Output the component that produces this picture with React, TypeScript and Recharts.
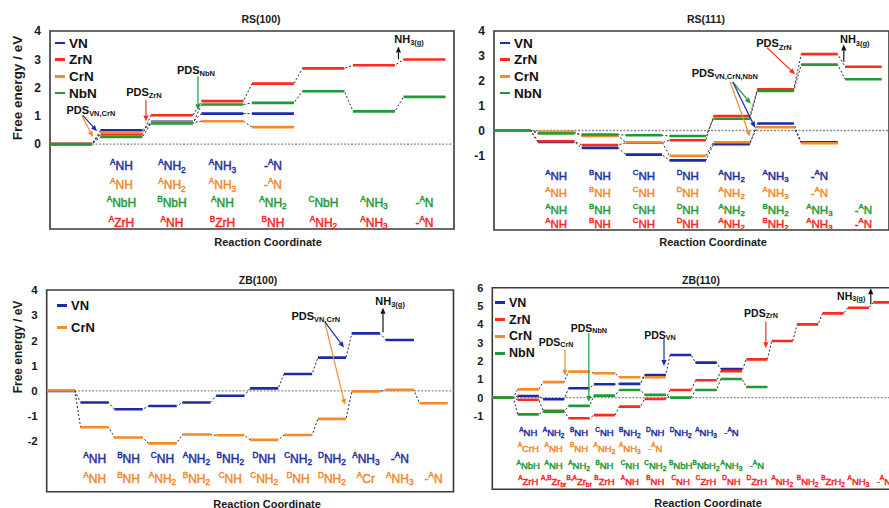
import React from 'react';
import { ComposedChart, Line, Scatter, XAxis, YAxis, ReferenceLine, ReferenceArea } from 'recharts';

const FONT = '"Liberation Sans", Arial, Helvetica, sans-serif';
const COL = { VN: '#1b2ca6', ZrN: '#ff2a1e', CrN: '#f68b2c', NbN: '#21993a', ARROW: '#111111' };
const TXT = { VN: '#1f2ea0', ZrN: '#ff2424', CrN: '#f0892e', NbN: '#1f9a35' };

// ---------- RS(100) ----------
const RS100_VN = [0, 0.49, 0.79, 1.08, 1.08];
const RS100_ZrN = [0, 0.34, 1.02, 1.52, 2.14, 2.68, 2.79, 2.99];
const RS100_CrN = [0, 0.41, 0.76, 0.81, 0.6];
const RS100_NbN = [0, 0.25, 0.73, 1.4, 1.46, 1.87, 1.16, 1.67];
const RS100_VN_LBL = ['^ANH', '^ANH_2', '^ANH_3', '-^AN'];
const RS100_CrN_LBL = ['^ANH', '^ANH_2', '^ANH_3', '-^AN'];
const RS100_NbN_LBL = ['^ANbH', '^BNbH', '^ANH', '^ANH_2', '^CNbH', '^ANH_3', '-^AN'];
const RS100_ZrN_LBL = ['^AZrH', '^ANH', '^BZrH', '^BNH', '^ANH_2', '^ANH_3', '-^AN'];
const RS100_TICKS = [0, 1, 2, 3, 4];

// ---------- RS(111) ----------
const RS111_VN = [0, -0.46, -0.7, -0.97, -1.2, -0.55, 0.28, -0.47];
const RS111_ZrN = [0, -0.43, -0.58, -0.49, -0.39, 0.58, 1.66, 3.07, 2.56];
const RS111_CrN = [0, -0.05, -0.22, -0.47, -1.02, -0.47, 0.13, -0.51];
const RS111_NbN = [0, -0.12, -0.16, -0.19, -0.22, 0.47, 1.59, 2.65, 2.06];
const RS111_VN_LBL = ['^ANH', '^BNH', '^CNH', '^DNH', '^ANH_2', '^ANH_3', '-^AN'];
const RS111_CrN_LBL = ['^ANH', '^BNH', '^CNH', '^DNH', '^ANH_2', '^ANH_3', '-^AN'];
const RS111_NbN_LBL = ['^ANH', '^BNH', '^CNH', '^DNH', '^ANH_2', '^BNH_2', '^ANH_3', '-^AN'];
const RS111_ZrN_LBL = ['^ANH', '^BNH', '^CNH', '^DNH', '^ANH_2', '^BNH_2', '^ANH_3', '-^AN'];
const RS111_TICKS = [-1, 0, 1, 2, 3, 4];

// ---------- ZB(100) ----------
const ZB100_VN = [0, -0.46, -0.73, -0.6, -0.46, -0.19, 0.1, 0.67, 1.32, 2.28, 2.02];
const ZB100_CrN = [0.02, -1.44, -1.85, -2.08, -1.73, -1.76, -1.94, -1.75, -1.11, -0.02, 0.04, -0.49];
const ZB100_VN_LBL = ['^ANH', '^BNH', '^CNH', '^ANH_2', '^BNH_2', '^DNH', '^CNH_2', '^DNH_2', '^ANH_3', '-^AN'];
const ZB100_CrN_LBL = ['^ANH', '^BNH', '^ANH_2', '^BNH_2', '^CNH', '^CNH_2', '^DNH', '^DNH_2', '^ACr', '^ANH_3', '-^AN'];
const ZB100_TICKS = [-2, -1, 0, 1, 2, 3, 4];

// ---------- ZB(110) ----------
const ZB110_VN = [0, 0.09, -0.09, 0.51, 0.73, 0.75, 1.24, 2.33, 1.91, 1.56];
const ZB110_ZrN = [0, -0.11, -0.71, -1.12, -0.95, -0.49, -0.07, 0.42, 0.95, 1.45, 2.09, 3.09, 4.0, 4.6, 4.91, 5.2];
const ZB110_CrN = [0, 0.45, 0.85, 1.42, 1.33, 1.11, 1.11];
const ZB110_NbN = [0, -0.91, -0.76, -0.45, 0.11, 0.42, 0.15, 0.0, 0.42, 1.02, 0.58];
const ZB110_VN_LBL = ['^ANH', '^ANH_2', '^BNH', '^CNH', '^BNH_2', '^DNH', '^DNH_2', '^ANH_3', '-^AN'];
const ZB110_CrN_LBL = ['^ACrH', '^ANH', '^BNH', '^ANH_2', '^ANH_3', '-^AN'];
const ZB110_NbN_LBL = ['^ANbH', '^ANH', '^ANH_2', '^BNH', '^CNH', '^CNH_2', '^BNbH', '^BNbH_2', '^ANH_3', '-^AN'];
const ZB110_ZrN_LBL = ['^AZrH', '^{A,B}Zr_{br}', '^{B,A}Zr_{br}', '^BZrH', '^ANH', '^BNH', '^CNH', '^CZrH', '^DNH', '^DZrH', '^ANH_2', '^BNH_2', '^BZrH_2', '^ANH_3', '-^AN'];
const ZB110_TICKS = [-1, 0, 1, 2, 3, 4, 5, 6];

const SEG = 0.83;

type Seg = { t: string; m: number };
function parseMarkup(s: string): Seg[] {
  const out: Seg[] = [];
  let buf = '';
  let i = 0;
  const flush = () => {
    if (buf) out.push({ t: buf, m: 0 });
    buf = '';
  };
  while (i < s.length) {
    const ch = s[i];
    if (ch === '^' || ch === '_') {
      flush();
      let t = '';
      if (s[i + 1] === '{') {
        const j = s.indexOf('}', i + 2);
        t = s.slice(i + 2, j);
        i = j + 1;
      } else {
        t = s[i + 1];
        i += 2;
      }
      out.push({ t, m: ch === '^' ? 1 : 2 });
    } else {
      buf += ch;
      i++;
    }
  }
  flush();
  return out;
}

function RichText(props: any) {
  const { x, y, text, color, fs, bold, thick } = props;
  const segs = parseMarkup(text);
  let cur = 0;
  return (
    <text x={x} y={y} textAnchor="middle" dominantBaseline="central" fill={color} fontSize={fs}
      fontWeight={bold ? 'bold' : 'normal'} fontFamily={FONT}
      stroke={thick ? color : 'none'} strokeWidth={thick ? 0.45 : 0}>
      {segs.map((sg, i) => {
        const target = sg.m === 1 ? -0.36 * fs : sg.m === 2 ? 0.28 * fs : 0;
        const dy = target - cur;
        cur = target;
        return (
          <tspan key={i} dy={dy} fontSize={sg.m ? fs * 0.68 : fs}>{sg.t}</tspan>
        );
      })}
    </text>
  );
}

const renderPoint = (p: any) => {
  const d = p.payload || {};
  return <RichText x={p.cx} y={p.cy} text={d.text} color={d.color} fs={d.fs} bold={d.bold} thick={d.thick} />;
};

const arrowShape = (color: string) => (props: any) => {
  const { x1, y1, x2, y2 } = props;
  const dx = x2 - x1;
  const dy = y2 - y1;
  const L = Math.hypot(dx, dy) || 1;
  const ux = dx / L;
  const uy = dy / L;
  const h = 6;
  const w = 2.6;
  const bx = x2 - ux * h;
  const by = y2 - uy * h;
  return (
    <g>
      <line x1={x1} y1={y1} x2={bx} y2={by} stroke={color} strokeWidth={1.2} />
      <polygon points={`${x2},${y2} ${bx - uy * w},${by + ux * w} ${bx + uy * w},${by - ux * w}`} fill={color} />
    </g>
  );
};

function solidData(values: number[]) {
  const out: any[] = [];
  values.forEach((v, k) => {
    out.push({ x: k, y: v });
    out.push({ x: k + SEG, y: v });
    out.push({ x: k + (1 + SEG) / 2, y: null });
  });
  return out;
}
function dashData(values: number[]) {
  const out: any[] = [];
  values.forEach((v, k) => {
    out.push({ x: k, y: v });
    out.push({ x: k + SEG, y: v });
  });
  return out;
}

type SeriesCfg = { name: string; color: string; values: number[] };
type RowCfg = { color: string; labels: string[]; y: number };
type TextCfg = { t: string; x: number; y: number };
type ArrowCfg = { x1: number; y1: number; x2: number; y2: number; c: string };

type PanelCfg = {
  left: number; top: number; width: number; height: number;
  margin: any; yw: number; xMax: number; yDomain: [number, number]; ticks: number[];
  series: SeriesCfg[]; rows: RowCfg[]; labelFs: number; tickFs: number;
  texts: TextCfg[]; annFs: number; arrows: ArrowCfg[];
  legend: { x: number; y: number; gap: number; fs: number; items: SeriesCfg[] };
};

function Panel({ cfg }: { cfg: PanelCfg }) {
  const pts: any[] = [];
  cfg.rows.forEach((r) => {
    r.labels.forEach((lb, i) => {
      pts.push({ x: i + 1 + SEG / 2, y: r.y, text: lb, color: r.color, fs: cfg.labelFs, bold: false, thick: true });
    });
  });
  cfg.texts.forEach((t) => {
    pts.push({ x: t.x, y: t.y, text: t.t, color: '#111', fs: cfg.annFs, bold: true, thick: false });
  });
  return (
    <div style={{ position: 'absolute', left: cfg.left, top: cfg.top, width: cfg.width, height: cfg.height }}>
      <ComposedChart width={cfg.width} height={cfg.height} margin={cfg.margin}>
        <XAxis type="number" dataKey="x" domain={[0, cfg.xMax]} hide allowDataOverflow />
        <YAxis type="number" dataKey="y" domain={cfg.yDomain} ticks={cfg.ticks} width={cfg.yw} interval={0}
          allowDataOverflow axisLine={false} tickLine={false} tickSize={0} tickMargin={9}
          tick={{ fontSize: cfg.tickFs, fontWeight: 'bold', fill: '#1a1a1a', fontFamily: FONT }} />
        <ReferenceLine y={0} stroke="#8c8c8c" strokeDasharray="2 1.5" strokeWidth={1.3} />
        {cfg.series.map((s) => (
          <Line key={s.name + '-conn'} data={dashData(s.values)} dataKey="y" stroke="#2a2a2a" strokeWidth={1}
            strokeDasharray="2 2" dot={false} activeDot={false} isAnimationActive={false} legendType="none" />
        ))}
        {cfg.series.map((s) => (
          <Line key={s.name} name={s.name} data={solidData(s.values)} dataKey="y" stroke={s.color} strokeWidth={2.6}
            dot={false} activeDot={false} connectNulls={false} isAnimationActive={false} />
        ))}
        <ReferenceArea x1={0} x2={cfg.xMax} y1={cfg.yDomain[0]} y2={cfg.yDomain[1]} fill="none" fillOpacity={0}
          stroke="#3a3a3a" strokeWidth={1.6} ifOverflow="visible" />
        {cfg.arrows.map((a, i) => (
          <ReferenceLine key={'ar' + i} segment={[{ x: a.x1, y: a.y1 }, { x: a.x2, y: a.y2 }]}
            stroke={a.c} ifOverflow="visible" shape={arrowShape(a.c)} />
        ))}
        <Scatter data={pts} dataKey="y" shape={renderPoint} isAnimationActive={false} legendType="none" />
      </ComposedChart>
      <div style={{ position: 'absolute', left: cfg.legend.x, top: cfg.legend.y, fontFamily: FONT }}>
        {cfg.legend.items.map((it, i) => (
          <div key={it.name} style={{ position: 'absolute', left: 0, top: i * cfg.legend.gap, height: 16,
            display: 'flex', alignItems: 'center', whiteSpace: 'nowrap', transform: 'translateY(-50%)' }}>
            <span style={{ display: 'inline-block', width: 10, height: 2.6, background: it.color, marginRight: 4 }} />
            <span style={{ fontSize: cfg.legend.fs, fontWeight: 'bold', color: '#111' }}>{it.name}</span>
          </div>
        ))}
      </div>
    </div>
  );
}

const S = (name: string, values: number[]): SeriesCfg => ({ name, color: (COL as any)[name], values });

const P1: PanelCfg = {
  left: 0, top: 0, width: 460, height: 235, margin: { top: 31, right: 6, bottom: 6, left: 0 }, yw: 50,
  xMax: 8, yDomain: [-3, 4], ticks: RS100_TICKS,
  series: [S('VN', RS100_VN), S('ZrN', RS100_ZrN), S('CrN', RS100_CrN), S('NbN', RS100_NbN)],
  rows: [
    { color: TXT.VN, labels: RS100_VN_LBL, y: -0.78 },
    { color: TXT.CrN, labels: RS100_CrN_LBL, y: -1.45 },
    { color: TXT.NbN, labels: RS100_NbN_LBL, y: -2.08 },
    { color: TXT.ZrN, labels: RS100_ZrN_LBL, y: -2.79 },
  ],
  labelFs: 12, tickFs: 12, annFs: 11,
  texts: [
    { t: 'PDS_{VN,CrN}', x: 0.81, y: 1.2 },
    { t: 'PDS_{ZrN}', x: 1.86, y: 1.84 },
    { t: 'PDS_{NbN}', x: 2.89, y: 2.61 },
    { t: 'NH_{3(g)}', x: 7.11, y: 3.71 },
  ],
  arrows: [
    { x1: 0.65, y1: 1.02, x2: 0.93, y2: 0.46, c: COL.VN },
    { x1: 0.63, y1: 1.02, x2: 0.85, y2: 0.25, c: COL.CrN },
    { x1: 1.9, y1: 1.55, x2: 1.9, y2: 0.8, c: COL.ZrN },
    { x1: 2.93, y1: 2.4, x2: 2.93, y2: 1.2, c: COL.NbN },
    { x1: 6.9, y1: 3.0, x2: 6.9, y2: 3.45, c: COL.ARROW },
  ],
  legend: { x: 55, y: 43, gap: 16.7, fs: 13.5, items: [] },
};
P1.legend.items = P1.series;

const P2: PanelCfg = {
  left: 445, top: 0, width: 445, height: 236, margin: { top: 31, right: 1, bottom: 6, left: 0 }, yw: 49,
  xMax: 9, yDomain: [-4, 4], ticks: RS111_TICKS,
  series: [S('VN', RS111_VN), S('ZrN', RS111_ZrN), S('CrN', RS111_CrN), S('NbN', RS111_NbN)],
  rows: [
    { color: TXT.VN, labels: RS111_VN_LBL, y: -1.82 },
    { color: TXT.CrN, labels: RS111_CrN_LBL, y: -2.5 },
    { color: TXT.NbN, labels: RS111_NbN_LBL, y: -3.19 },
    { color: TXT.ZrN, labels: RS111_ZrN_LBL, y: -3.76 },
  ],
  labelFs: 11.5, tickFs: 12, annFs: 11,
  texts: [
    { t: 'PDS_{VN,CrN,NbN}', x: 5.26, y: 2.32 },
    { t: 'PDS_{ZrN}', x: 6.38, y: 3.5 },
    { t: 'NH_{3(g)}', x: 8.22, y: 3.66 },
  ],
  arrows: [
    { x1: 5.44, y1: 1.95, x2: 5.85, y2: 1.08, c: COL.NbN },
    { x1: 5.44, y1: 1.95, x2: 5.95, y2: 0.11, c: COL.VN },
    { x1: 5.38, y1: 1.95, x2: 5.83, y2: -0.24, c: COL.CrN },
    { x1: 6.22, y1: 3.33, x2: 6.86, y2: 2.26, c: COL.ZrN },
    { x1: 7.97, y1: 2.76, x2: 7.97, y2: 3.46, c: COL.ARROW },
  ],
  legend: { x: 55, y: 43, gap: 16.7, fs: 13.5, items: [] },
};
P2.legend.items = P2.series;

const P3: PanelCfg = {
  left: 0, top: 255, width: 460, height: 240, margin: { top: 35, right: 6.5, bottom: 3.2, left: 0 }, yw: 46.7,
  xMax: 12, yDomain: [-4, 4], ticks: ZB100_TICKS,
  series: [S('VN', ZB100_VN), S('CrN', ZB100_CrN)],
  rows: [
    { color: TXT.VN, labels: ZB100_VN_LBL, y: -2.7 },
    { color: TXT.CrN, labels: ZB100_CrN_LBL, y: -3.49 },
  ],
  labelFs: 12, tickFs: 11.5, annFs: 11,
  texts: [
    { t: 'PDS_{VN,CrN}', x: 7.94, y: 2.98 },
    { t: 'NH_{3(g)}', x: 10.13, y: 3.58 },
  ],
  arrows: [
    { x1: 8.2, y1: 2.75, x2: 8.77, y2: 1.72, c: COL.VN },
    { x1: 8.2, y1: 2.75, x2: 8.8, y2: -0.56, c: COL.CrN },
    { x1: 9.92, y1: 2.33, x2: 9.92, y2: 3.3, c: COL.ARROW },
  ],
  legend: { x: 57, y: 50.7, gap: 22, fs: 13, items: [] },
};
P3.legend.items = P3.series;

const P4: PanelCfg = {
  left: 460, top: 255, width: 440, height: 240, margin: { top: 32.7, right: 1.3, bottom: 5.7, left: 0 }, yw: 32.3,
  xMax: 16, yDomain: [-5, 6], ticks: ZB110_TICKS,
  series: [S('VN', ZB110_VN), S('ZrN', ZB110_ZrN), S('CrN', ZB110_CrN), S('NbN', ZB110_NbN)],
  rows: [
    { color: TXT.VN, labels: ZB110_VN_LBL, y: -1.87 },
    { color: TXT.CrN, labels: ZB110_CrN_LBL, y: -2.74 },
    { color: TXT.NbN, labels: ZB110_NbN_LBL, y: -3.67 },
    { color: TXT.ZrN, labels: ZB110_ZrN_LBL, y: -4.54 },
  ],
  labelFs: 9.5, tickFs: 11, annFs: 10.5,
  texts: [
    { t: 'PDS_{CrN}', x: 2.51, y: 3.02 },
    { t: 'PDS_{NbN}', x: 3.8, y: 3.82 },
    { t: 'PDS_{VN}', x: 6.6, y: 3.42 },
    { t: 'PDS_{ZrN}', x: 10.58, y: 4.6 },
    { t: 'NH_{3(g)}', x: 14.13, y: 5.56 },
  ],
  arrows: [
    { x1: 2.86, y1: 2.6, x2: 2.86, y2: 1.2, c: COL.CrN },
    { x1: 3.8, y1: 3.51, x2: 3.8, y2: -0.22, c: COL.NbN },
    { x1: 6.76, y1: 3.19, x2: 6.76, y2: 1.73, c: COL.VN },
    { x1: 10.77, y1: 4.15, x2: 10.77, y2: 2.7, c: COL.ZrN },
    { x1: 14.9, y1: 5.1, x2: 14.9, y2: 5.97, c: COL.ARROW },
  ],
  legend: { x: 35, y: 47.7, gap: 16.9, fs: 12.5, items: [] },
};
P4.legend.items = P4.series;

const TITLES = [
  { t: 'RS(100)', x: 261, y: 19 },
  { t: 'RS(111)', x: 706, y: 19 },
  { t: 'ZB(100)', x: 258, y: 280 },
  { t: 'ZB(110)', x: 701, y: 280 },
];
const XLABELS = [
  { t: 'Reaction Coordinate', x: 268, y: 242 },
  { t: 'Reaction Coordinate', x: 713, y: 242 },
  { t: 'Reaction Coordinate', x: 267, y: 504 },
  { t: 'Reaction Coordinate', x: 708, y: 503 },
];
const YLABELS = [
  { t: 'Free energy / eV', x: 18, y: 88, fs: 13.5 },
  { t: 'Free energy / eV', x: 18, y: 347, fs: 12 },
];

const abs = (x: number, y: number, fs: number, rot = 0): React.CSSProperties => ({
  position: 'absolute', left: x, top: y, transform: `translate(-50%, -50%) rotate(${rot}deg)`,
  fontFamily: FONT, fontWeight: 'bold', fontSize: fs, color: '#1a1a1a', whiteSpace: 'nowrap', lineHeight: 1,
});

export default function App() {
  return (
    <div style={{ position: 'absolute', left: 0, top: 0, width: 889, height: 508, overflow: 'hidden', background: '#fff' }}>
      <Panel cfg={P1} />
      <Panel cfg={P2} />
      <Panel cfg={P3} />
      <Panel cfg={P4} />
      {TITLES.map((t, i) => <div key={'t' + i} style={abs(t.x, t.y, 10.5)}>{t.t}</div>)}
      {XLABELS.map((t, i) => <div key={'x' + i} style={abs(t.x, t.y, 11)}>{t.t}</div>)}
      {YLABELS.map((t, i) => <div key={'y' + i} style={abs(t.x, t.y, t.fs, -90)}>{t.t}</div>)}
    </div>
  );
}
